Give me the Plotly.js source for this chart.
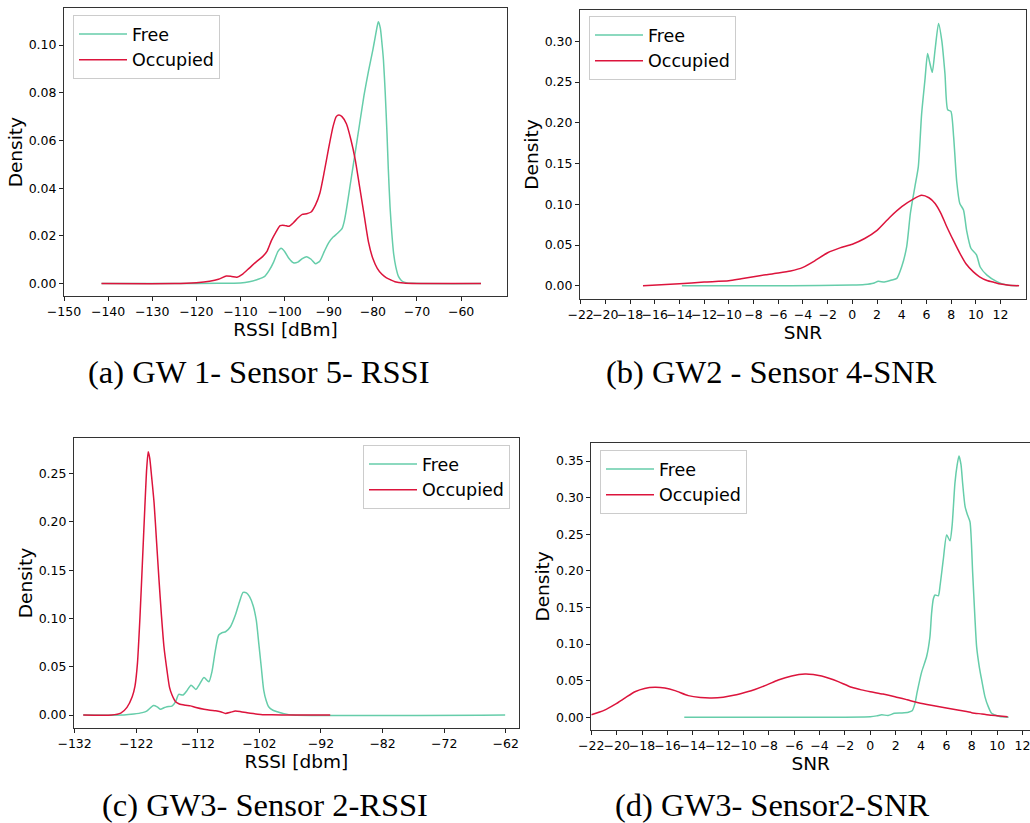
<!DOCTYPE html>
<html>
<head>
<meta charset="utf-8">
<script src="https://cdn.plot.ly/plotly-3.0.1.min.js"></script>
<style>
  html, body { margin: 0; padding: 0; background: #ffffff; }
  #chart { width: 1030px; height: 823px; }
</style>
</head>
<body>
<div id="chart"></div>
<script>
// ---------- Data ----------
const seriesNames = ["Free", "Occupied"];

// (a) GW 1 - Sensor 5 - RSSI
const aFreeX = [-141.5, -125, -115, -110, -108, -106, -104.5, -103.5, -102.5, -101.5, -100.8, -100, -99, -98, -97, -96, -95, -94, -93, -92, -91, -90, -89, -88, -87, -86.5, -86, -85.2, -84, -83, -82, -81, -80, -79.5, -79, -78.75, -78.3, -77.9, -77.6, -77.2, -76.8, -76.5, -76.1, -75.7, -75.3, -74.8, -74.2, -73.5, -72.5, -71, -55.5];
const aFreeY = [0, 0, 0.0001, 0.0003, 0.0008, 0.0018, 0.003, 0.0055, 0.009, 0.0135, 0.0148, 0.0135, 0.0105, 0.0087, 0.0090, 0.0105, 0.0113, 0.0102, 0.0083, 0.0095, 0.0135, 0.0172, 0.0195, 0.0211, 0.023, 0.026, 0.031, 0.0406, 0.055, 0.067, 0.079, 0.089, 0.098, 0.103, 0.108, 0.1098, 0.107, 0.100, 0.0937, 0.080, 0.063, 0.048, 0.032, 0.021, 0.0127, 0.007, 0.003, 0.0012, 0.0004, 0.0001, 0];
const aOccX = [-141.5, -125, -120, -117, -115, -113.2, -112, -110.8, -109.5, -108, -106.5, -105, -104, -103, -102, -101, -100, -99, -98, -97, -96, -95, -94, -93, -92, -91, -90, -89, -88.3, -87.7, -87, -86, -85, -84, -83, -82, -81, -80, -79, -78, -77, -76, -75, -73, -70, -55.5];
const aOccY = [0, 0, 0.0004, 0.001, 0.0018, 0.0032, 0.003, 0.0027, 0.004, 0.0065, 0.009, 0.0113, 0.0135, 0.018, 0.0215, 0.0243, 0.0244, 0.0240, 0.0255, 0.0275, 0.029, 0.0293, 0.030, 0.033, 0.038, 0.047, 0.057, 0.066, 0.0700, 0.0707, 0.0700, 0.067, 0.0605, 0.052, 0.0405, 0.029, 0.0175, 0.0105, 0.0064, 0.004, 0.0025, 0.0016, 0.0008, 0.0002, 0, 0];

// (b) GW2 - Sensor 4 - SNR
const bFreeX = [-13.8, -5, 0, 1, 1.7, 2.1, 2.6, 3.2, 3.6, 4.0, 4.4, 4.7, 5.07, 5.34, 5.61, 5.88, 6.09, 6.25, 6.47, 6.7, 6.98, 7.25, 7.5, 7.72, 7.98, 8.2, 8.45, 8.7, 9.0, 9.25, 9.6, 10.05, 10.35, 10.9, 11.7, 12.5, 13.4];
const bFreeY = [0, 0, 0.0008, 0.0015, 0.003, 0.0055, 0.0045, 0.007, 0.009, 0.0235, 0.048, 0.089, 0.122, 0.146, 0.211, 0.253, 0.285, 0.275, 0.262, 0.29, 0.322, 0.300, 0.260, 0.216, 0.214, 0.183, 0.128, 0.101, 0.093, 0.068, 0.046, 0.038, 0.023, 0.013, 0.005, 0.001, 0];
const bOccX = [-16.95, -14, -12, -10, -9, -8, -7, -6, -5, -4, -3, -2, -1, 0, 1, 2, 3, 4, 5, 5.6, 6.2, 6.7, 7.2, 7.6, 8.2, 8.7, 9.2, 9.8, 10.3, 10.9, 11.5, 12, 12.7, 13.5];
const bOccY = [0, 0.0025, 0.0045, 0.006, 0.0085, 0.011, 0.0135, 0.0155, 0.018, 0.0225, 0.031, 0.0405, 0.0465, 0.051, 0.058, 0.068, 0.0835, 0.097, 0.107, 0.111, 0.108, 0.101, 0.088, 0.074, 0.055, 0.040, 0.027, 0.017, 0.011, 0.0065, 0.004, 0.002, 0.0007, 0];

// (c) GW3 - Sensor 2 - RSSI
const cFreeX = [-130.6, -124, -122.4, -121, -120.3, -119.2, -118.6, -118.05, -117.5, -117, -116.2, -115.6, -115.1, -114.4, -113.8, -113.1, -112.3, -111.7, -111.0, -110.2, -109.7, -109.2, -108.6, -108.0, -107.5, -106.7, -105.9, -105.2, -104.65, -104.1, -103.6, -103.0, -102.5, -102.1, -101.7, -101.3, -100.9, -100.5, -99.8, -99.1, -98, -96.5, -62.1];
const cFreeY = [0, 0, 0.001, 0.0025, 0.004, 0.0098, 0.0085, 0.006, 0.0075, 0.0086, 0.0093, 0.014, 0.0215, 0.0207, 0.025, 0.031, 0.0266, 0.032, 0.039, 0.0345, 0.045, 0.065, 0.0829, 0.0855, 0.0863, 0.0915, 0.1036, 0.118, 0.127, 0.1265, 0.1226, 0.113, 0.098, 0.0742, 0.050, 0.0259, 0.015, 0.0086, 0.005, 0.0035, 0.0015, 0, 0];
const cOccX = [-130.6, -126, -124.5, -123.5, -122.65, -122.2, -121.8, -121.4, -121.0, -120.6, -120.3, -120.05, -119.8, -119.5, -119.1, -118.7, -118.3, -117.9, -117.5, -117.0, -116.6, -116.2, -115.6, -115.0, -114.0, -113.2, -112.3, -111.0, -110.0, -109.1, -108.3, -107.5, -106.7, -105.9, -105.0, -104.0, -103.0, -101.8, -100, -97, -90.5];
const cOccY = [0, 0, 0.002, 0.008, 0.019, 0.030, 0.0535, 0.10, 0.157, 0.215, 0.255, 0.2728, 0.266, 0.247, 0.22, 0.18, 0.14, 0.103, 0.071, 0.046, 0.029, 0.021, 0.0138, 0.0115, 0.0102, 0.0095, 0.0078, 0.006, 0.005, 0.0045, 0.0035, 0.0017, 0.0028, 0.0042, 0.0035, 0.0024, 0.0015, 0.0007, 0.0002, 0, 0];

// (d) GW3 - Sensor2 - SNR
const dFreeX = [-14.67, -5, 0, 0.5, 0.9, 1.4, 1.9, 2.5, 3.0, 3.3, 3.52, 3.7, 4.05, 4.44, 4.7, 4.83, 4.97, 5.1, 5.36, 5.5, 5.75, 6.02, 6.28, 6.45, 6.67, 6.85, 6.99, 7.15, 7.28, 7.47, 7.65, 7.86, 8.07, 8.25, 8.38, 8.6, 8.78, 9.04, 9.3, 9.56, 9.83, 10.2, 10.9];
const dFreeY = [0, 0, 0.0009, 0.002, 0.0035, 0.0025, 0.0055, 0.006, 0.007, 0.009, 0.019, 0.035, 0.062, 0.083, 0.110, 0.142, 0.162, 0.167, 0.166, 0.180, 0.215, 0.249, 0.241, 0.262, 0.3195, 0.345, 0.357, 0.345, 0.3195, 0.288, 0.277, 0.267, 0.197, 0.135, 0.0965, 0.068, 0.051, 0.028, 0.0146, 0.0055, 0.0032, 0.001, 0];
const dOccX = [-22, -21, -20.1, -19.3, -18.56, -17.8, -16.98, -16.2, -15.4, -14.35, -13.4, -12.5, -11.6, -10.67, -9.9, -9.1, -8.2, -7.26, -6.2, -5.15, -4.5, -3.84, -3.2, -2.53, -1.47, -0.7, 0, 1, 1.94, 2.9, 3.78, 4.8, 5.88, 7, 7.99, 8.8, 9.56, 10.2, 10.83];
const dOccY = [0.0035, 0.0095, 0.018, 0.027, 0.035, 0.0395, 0.041, 0.040, 0.0365, 0.0296, 0.027, 0.0264, 0.0275, 0.0305, 0.034, 0.038, 0.044, 0.051, 0.0565, 0.0592, 0.0585, 0.0564, 0.053, 0.0487, 0.041, 0.0375, 0.035, 0.0318, 0.0282, 0.024, 0.020, 0.0165, 0.0132, 0.0097, 0.0064, 0.0045, 0.0027, 0.0017, 0.0009];

// Tick values
const aXTicks = [-150, -140, -130, -120, -110, -100, -90, -80, -70, -60];
const bXTicks = [-22, -20, -18, -16, -14, -12, -10, -8, -6, -4, -2, 0, 2, 4, 6, 8, 10, 12];
const cXTicks = [-132, -122, -112, -102, -92, -82, -72, -62];
const dXTicks = [-22, -20, -18, -16, -14, -12, -10, -8, -6, -4, -2, 0, 2, 4, 6, 8, 10, 12];
const aYTicks = [0, 0.02, 0.04, 0.06, 0.08, 0.10];
const bYTicks = [0, 0.05, 0.10, 0.15, 0.20, 0.25, 0.30];
const cYTicks = [0, 0.05, 0.10, 0.15, 0.20, 0.25];
const dYTicks = [0, 0.05, 0.10, 0.15, 0.20, 0.25, 0.30, 0.35];

const xTitles = ["RSSI [dBm]", "SNR", "RSSI [dbm]", "SNR"];
const yTitle = "Density";
const captions = ["(a) GW 1- Sensor 5- RSSI", "(b) GW2 - Sensor 4-SNR", "(c) GW3- Sensor 2-RSSI", "(d) GW3- Sensor2-SNR"];

// ---------- Styling ----------
const FREE_COLOR = "#66CDAA";
const OCC_COLOR = "#DC143C";
const FONT = "DejaVu Sans, sans-serif";
const W = 1030, H = 823;

function line(x, y, name, color, idx) {
  const sfx = idx === 1 ? "" : String(idx);
  return {
    type: "scatter", mode: "lines", x: x, y: y, name: name,
    xaxis: "x" + sfx, yaxis: "y" + sfx,
    legend: "legend" + sfx,
    line: { color: color, width: 1.5, shape: "spline", smoothing: 0.6 },
    hoverinfo: "x+y+name"
  };
}

const traces = [
  line(aFreeX, aFreeY, seriesNames[0], FREE_COLOR, 1),
  line(aOccX, aOccY, seriesNames[1], OCC_COLOR, 1),
  line(bFreeX, bFreeY, seriesNames[0], FREE_COLOR, 2),
  line(bOccX, bOccY, seriesNames[1], OCC_COLOR, 2),
  line(cFreeX, cFreeY, seriesNames[0], FREE_COLOR, 3),
  line(cOccX, cOccY, seriesNames[1], OCC_COLOR, 3),
  line(dFreeX, dFreeY, seriesNames[0], FREE_COLOR, 4),
  line(dOccX, dOccY, seriesNames[1], OCC_COLOR, 4)
];

// pixel boxes of the four panels: [left, right, top, bottom]
const boxes = [
  [64, 507, 8.3, 296],
  [580, 1026, 10, 299],
  [74, 518.7, 438.3, 727.7],
  [591.3, 1030, 442.7, 730]
];
const xRanges = [[-150, -49.6], [-22.05, 14.06], [-132.1, -59.9], [-22, 12.59]];
const yRanges = [[-0.0052, 0.1154], [-0.0163, 0.3385], [-0.0131, 0.2867], [-0.0173, 0.375]];
const xTickSets = [aXTicks, bXTicks, cXTicks, dXTicks];
const yTickSets = [aYTicks, bYTicks, cYTicks, dYTicks];

const layout = {
  width: W, height: H,
  margin: { l: 0, r: 0, t: 0, b: 0 },
  paper_bgcolor: "#ffffff",
  plot_bgcolor: "#ffffff",
  font: { family: FONT, size: 12, color: "#000000" },
  showlegend: true,
  annotations: [],
  shapes: []
};

for (let i = 0; i < 4; i++) {
  const sfx = i === 0 ? "" : String(i + 1);
  const b = boxes[i];
  const rightSpine = i !== 3; // panel (d) is cropped on the right
  layout["xaxis" + sfx] = {
    domain: [b[0] / W, Math.min(1, b[1] / W)],
    range: xRanges[i],
    anchor: "y" + sfx,
    tickmode: "array", tickvals: xTickSets[i],
    ticks: "outside", ticklen: 4, tickwidth: 1, tickcolor: "#222",
    tickangle: 0,
    ticklabeloverflow: "allow",
    tickfont: { family: FONT, size: 12.5, color: "#000" },
    showline: true, linecolor: "#333", linewidth: 1, mirror: true,
    showgrid: false, zeroline: false,
    title: { text: xTitles[i], font: { family: FONT, size: 18.5, color: "#000" }, standoff: 3 }
  };
  layout["yaxis" + sfx] = {
    domain: [1 - b[3] / H, 1 - b[2] / H],
    range: yRanges[i],
    anchor: "x" + sfx,
    tickmode: "array", tickvals: yTickSets[i],
    tickformat: ".2f",
    ticks: "outside", ticklen: 4, tickwidth: 1, tickcolor: "#222",
    tickfont: { family: FONT, size: 12.5, color: "#000" },
    showline: true, linecolor: "#333", linewidth: 1, mirror: rightSpine,
    showgrid: false, zeroline: false,
    title: { text: yTitle, font: { family: FONT, size: 18.5, color: "#000" }, standoff: 1 }
  };
}

const legendBase = {
  bgcolor: "rgba(255,255,255,0.85)",
  bordercolor: "#cccccc",
  borderwidth: 1,
  font: { family: FONT, size: 17.5, color: "#000" },
  itemwidth: 48,
  xref: "paper", yref: "paper",
  yanchor: "top"
};
layout.legend  = Object.assign({}, legendBase, { x: 73 / W,  y: 1 - 15 / H,  xanchor: "left" });
layout.legend2 = Object.assign({}, legendBase, { x: 589 / W, y: 1 - 16 / H,  xanchor: "left" });
layout.legend3 = Object.assign({}, legendBase, { x: 510 / W, y: 1 - 445 / H, xanchor: "right" });
layout.legend4 = Object.assign({}, legendBase, { x: 600 / W, y: 1 - 450 / H, xanchor: "left" });

const capPos = [[259, 372], [771, 372], [265, 805], [772, 805]];
for (let i = 0; i < 4; i++) {
  layout.annotations.push({
    text: captions[i],
    xref: "paper", yref: "paper",
    x: capPos[i][0] / W, y: 1 - capPos[i][1] / H,
    xanchor: "center", yanchor: "middle",
    showarrow: false,
    font: { family: "Liberation Serif, Times New Roman, serif", size: 32.5, color: "#000" }
  });
}

Plotly.newPlot("chart", traces, layout, { displayModeBar: false, staticPlot: true });
</script>
</body>
</html>
